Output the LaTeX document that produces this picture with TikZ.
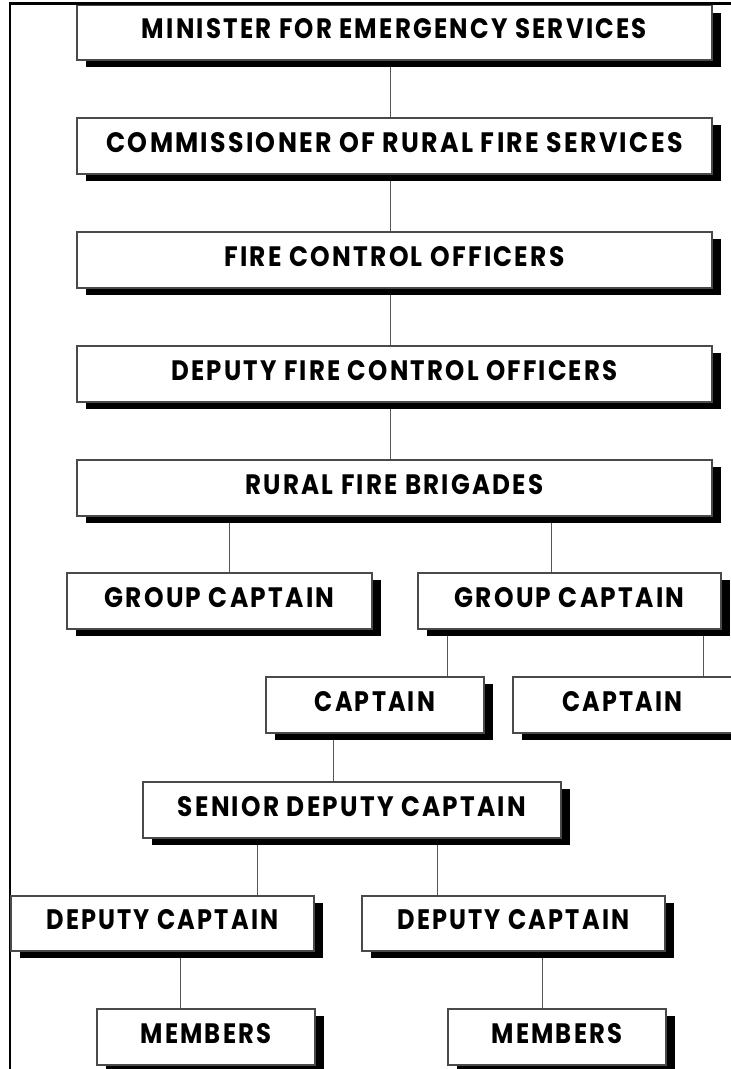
\documentclass[tikz,border=0pt]{standalone}
\usepackage{fontspec}
\setmainfont{Poppins}
\newfontfamily\orgfont{Poppins}[LetterSpace=9]
\usetikzlibrary{shadows,backgrounds}
\definecolor{boxgray}{HTML}{4A4A4A}
\definecolor{linegray}{HTML}{555555}
\newcommand\fxt[2]{\raisebox{4pt}[20pt][0pt]{\resizebox{#1}{20pt}{\orgfont\bfseries #2}}}
\tikzset{
  orgbox/.style={draw=boxgray, line width=1.1pt, fill=white, rectangle,
    inner sep=0pt, outer sep=0pt, anchor=north west,
    drop shadow={shadow xshift=9pt, shadow yshift=-7pt, fill=black, opacity=1}},
  conn/.style={draw=linegray, line width=1pt},
  frame/.style={draw=black, line width=2.6pt}
}
\begin{document}
\begin{tikzpicture}[x=1pt,y=-1pt]
\useasboundingbox (0,0) rectangle (731,1069);
% frame
\draw[frame] (10,1075) -- (10,3.5) -- (735,3.5);
% boxes
\node[orgbox, minimum width=635pt, minimum height=54.5pt] (min) at (77,5.5) {\fxt{505pt}{MINISTER FOR EMERGENCY SERVICES}};
\node[orgbox, minimum width=635pt, minimum height=56pt] (comm) at (77,118) {\fxt{576pt}{COMMISSIONER OF RURAL FIRE SERVICES}};
\node[orgbox, minimum width=635pt, minimum height=56pt] (fco) at (77,232) {\fxt{340pt}{FIRE CONTROL OFFICERS}};
\node[orgbox, minimum width=635pt, minimum height=56pt] (dfco) at (77,346) {\fxt{446pt}{DEPUTY FIRE CONTROL OFFICERS}};
\node[orgbox, minimum width=635pt, minimum height=56pt] (rfb) at (77,460) {\fxt{298pt}{RURAL FIRE BRIGADES}};
\node[orgbox, minimum width=305pt, minimum height=56pt] (gc1) at (67,573) {\fxt{230pt}{GROUP CAPTAIN}};
\node[orgbox, minimum width=303pt, minimum height=56pt] (gc2) at (418,573) {\fxt{230pt}{GROUP CAPTAIN}};
\node[orgbox, minimum width=218pt, minimum height=56pt] (cap1) at (266,677) {\fxt{120pt}{CAPTAIN}};
\node[orgbox, minimum width=219pt, minimum height=56pt] (cap2) at (513,677) {\fxt{120pt}{CAPTAIN}};
\node[orgbox, minimum width=418pt, minimum height=56pt] (sdc) at (143,782) {\fxt{348pt}{SENIOR DEPUTY CAPTAIN}};
\node[orgbox, minimum width=303pt, minimum height=55pt] (dc1) at (11,896) {\fxt{232pt}{DEPUTY CAPTAIN}};
\node[orgbox, minimum width=303pt, minimum height=55pt] (dc2) at (362,896) {\fxt{232pt}{DEPUTY CAPTAIN}};
\node[orgbox, minimum width=218pt, minimum height=56pt] (mem1) at (97,1009) {\fxt{131pt}{MEMBERS}};
\node[orgbox, minimum width=218pt, minimum height=56pt] (mem2) at (448,1009) {\fxt{131pt}{MEMBERS}};
% connectors
\begin{scope}[on background layer]
\draw[conn] (min.south -| 390,0) -- (comm.north -| 390,0);
\draw[conn] (comm.south -| 390,0) -- (fco.north -| 390,0);
\draw[conn] (fco.south -| 390,0) -- (dfco.north -| 390,0);
\draw[conn] (dfco.south -| 390,0) -- (rfb.north -| 390,0);
\draw[conn] (rfb.south -| 229,0) -- (gc1.north -| 229,0);
\draw[conn] (rfb.south -| 551,0) -- (gc2.north -| 551,0);
\draw[conn] (gc2.south -| 447,0) -- (cap1.north -| 447,0);
\draw[conn] (gc2.south -| 703,0) -- (cap2.north -| 703,0);
\draw[conn] (cap1.south -| 333,0) -- (sdc.north -| 333,0);
\draw[conn] (sdc.south -| 257,0) -- (dc1.north -| 257,0);
\draw[conn] (sdc.south -| 437,0) -- (dc2.north -| 437,0);
\draw[conn] (dc1.south -| 180,0) -- (mem1.north -| 180,0);
\draw[conn] (dc2.south -| 542,0) -- (mem2.north -| 542,0);
\end{scope}
\end{tikzpicture}
\end{document}
